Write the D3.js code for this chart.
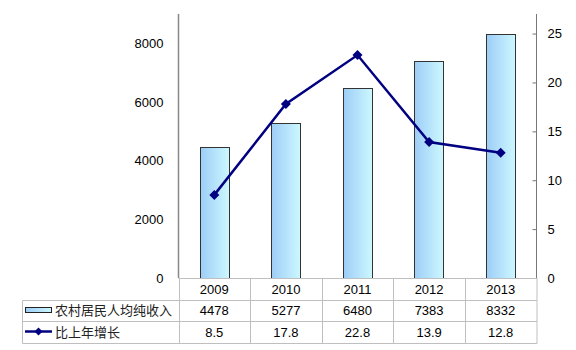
<!DOCTYPE html>
<html><head><meta charset="utf-8">
<script src="https://cdn.jsdelivr.net/npm/d3@7"></script>
<style>body{margin:0;background:#fff;}svg{display:block;}</style>
</head><body>
<svg id="c" width="576" height="350"></svg>
<script>
const years = ["2009","2010","2011","2012","2013"];
const income = [4478,5277,6480,7383,8332];
const growth = [8.5,17.8,22.8,13.9,12.8];
const incomeLabels = ["4478","5277","6480","7383","8332"];
const growthLabels = ["8.5","17.8","22.8","13.9","12.8"];
const leftTicks = [0,2000,4000,6000,8000];
const rightTicks = [0,5,10,15,20,25];
const seriesNames = ["农村居民人均纯收入","比上年增长"];

const svg = d3.select("#c");
const L = 178.5, R = 536.5, T = 14, B = 278;
const rows = [278, 300, 321, 343];
const tableLeft = 22.5;
const numFont = "'Liberation Sans', Arial, sans-serif";
const cjkFont = "'Noto Sans CJK SC', sans-serif";

const x = d3.scaleBand().domain(years).range([L, R]);
const yL = d3.scaleLinear().domain([0, 9000]).range([B, T]);
const yR = d3.scaleLinear().domain([0, 27]).range([B, T]);

const defs = svg.append("defs");
const g = defs.append("linearGradient").attr("id","bg").attr("x1","0").attr("x2","1").attr("y1","0").attr("y2","0");
g.append("stop").attr("offset","0").attr("stop-color","#9dcdf7");
g.append("stop").attr("offset","1").attr("stop-color","#cdf8ff");

// bars
const bw = x.bandwidth() * 0.41;
svg.append("g").selectAll("rect").data(income).join("rect")
  .attr("x", (d,i) => Math.round(x(years[i]) + x.bandwidth()/2 - bw/2) + 0.5)
  .attr("y", d => Math.round(yL(d)) + 0.5)
  .attr("width", Math.round(bw))
  .attr("height", d => B - Math.round(yL(d)))
  .attr("fill", "url(#bg)").attr("stroke", "#333").attr("stroke-width", 1);

// left axis
const la = svg.append("g").attr("transform", `translate(${L},0)`)
  .call(d3.axisLeft(yL).tickValues(leftTicks).tickSize(0).tickPadding(15).tickFormat(d3.format("d")));
la.select(".domain").attr("stroke", "#888").attr("stroke-width", 1.5).attr("d", `M0,${T}V${B}`);
la.selectAll("text").attr("font-family", numFont).attr("font-size", 13).attr("fill", "#000");

// right axis
const ra = svg.append("g").attr("transform", `translate(${R},0)`)
  .call(d3.axisRight(yR).tickValues(rightTicks).tickSize(-4).tickPadding(11).tickFormat(d3.format("d")));
ra.select(".domain").attr("stroke", "#777").attr("stroke-width", 1).attr("d", `M0,${T}V${B}`);
ra.selectAll(".tick line").attr("stroke", "#777");
ra.selectAll("text").attr("font-family", numFont).attr("font-size", 13).attr("fill", "#000");

// line series
const cx = (i) => x(years[i]) + x.bandwidth()/2;
const line = d3.line().x((d,i) => cx(i)).y(d => yR(d));
svg.append("path").datum(growth).attr("d", line).attr("fill","none")
  .attr("stroke","#000080").attr("stroke-width",2.5);
const diamond = (px, py, s) => `M${px},${py-s}L${px+s},${py}L${px},${py+s}L${px-s},${py}Z`;
svg.append("g").selectAll("path").data(growth).join("path")
  .attr("d", (d,i) => diamond(cx(i), yR(d), 5)).attr("fill","#000080");

// data table grid
const tg = svg.append("g").attr("stroke","#bfbfbf").attr("stroke-width",1).attr("fill","none");
tg.append("line").attr("x1",L).attr("x2",R).attr("y1",rows[0]+0.5).attr("y2",rows[0]+0.5);
[rows[1],rows[2],rows[3]].forEach(y => tg.append("line").attr("x1",tableLeft).attr("x2",R+0.5).attr("y1",y+0.5).attr("y2",y+0.5));
tg.append("line").attr("x1",tableLeft).attr("x2",tableLeft).attr("y1",rows[1]+0.5).attr("y2",rows[3]+0.5);
years.forEach(yv => {
  const xx = Math.round(x(yv)) + 0.5;
  tg.append("line").attr("x1",xx).attr("x2",xx).attr("y1",rows[0]).attr("y2",rows[3]+0.5);
});
tg.append("line").attr("x1",R+0.5).attr("x2",R+0.5).attr("y1",rows[0]).attr("y2",rows[3]+0.5);

// table texts
const rowMid = (r) => (rows[r] + rows[r+1]) / 2 + 4.5;
const tableRows = [years, incomeLabels, growthLabels];
tableRows.forEach((arr, r) => {
  svg.append("g").selectAll("text").data(arr).join("text")
    .attr("x", (d,i) => cx(i)).attr("y", rowMid(r))
    .attr("text-anchor","middle").attr("font-family", numFont).attr("font-size",13).attr("fill","#000")
    .text(d => d);
});

// legend keys
svg.append("rect").attr("x",25.5).attr("y",307.5).attr("width",26).attr("height",5)
  .attr("fill","url(#bg)").attr("stroke","#222").attr("stroke-width",1);
svg.append("line").attr("x1",25).attr("x2",52).attr("y1",331.5).attr("y2",331.5)
  .attr("stroke","#000080").attr("stroke-width",2.5);
svg.append("path").attr("d", diamond(38.5, 331.5, 4)).attr("fill","#000080");
seriesNames.forEach((s, i) => {
  svg.append("text").attr("x",55).attr("y", rowMid(i+1)).attr("font-family", cjkFont)
    .attr("font-size",13).attr("fill","#222").text(s);
});
</script>
</body></html>
